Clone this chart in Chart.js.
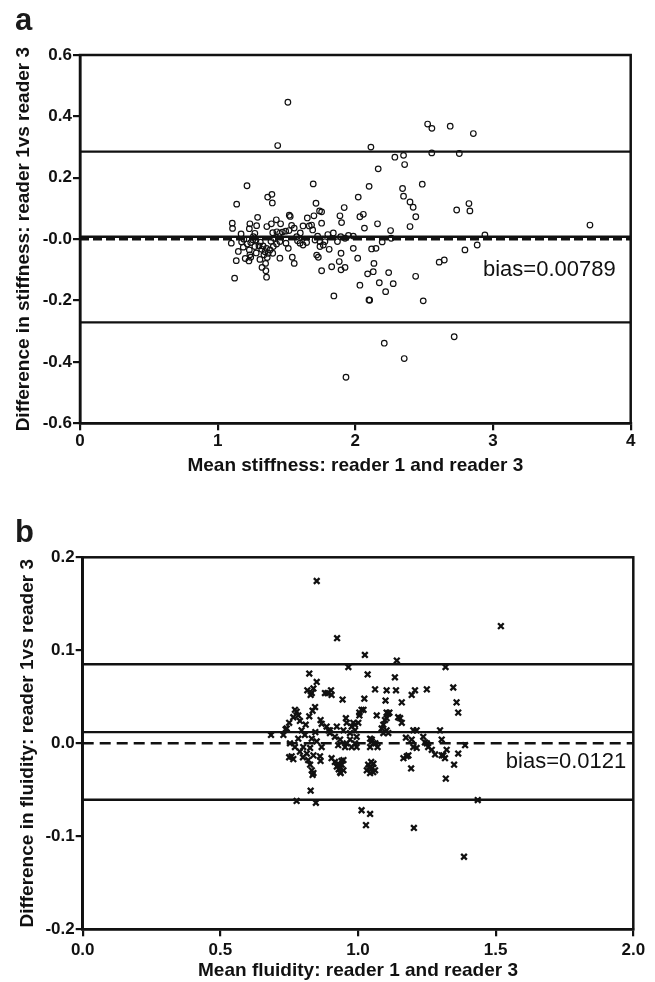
<!DOCTYPE html>
<html lang="en">
<head>
<meta charset="UTF-8">
<title>Bland-Altman: reader 1 vs reader 3</title>
<script src="https://cdn.jsdelivr.net/npm/chart.js"></script>
<style>
    body {
        margin: 0;
        background: #fff;
        font-family: "Liberation Sans", Arial, sans-serif;
    }
    .page {
        position: relative;
        width: 655px;
        height: 982px;
    }
    canvas {
        display: block;
    }
    .tag {
        position: absolute;
        left: 15px;
        font-size: 31px;
        line-height: 30px;
        font-weight: bold;
        color: #1a1a1a;
    }
</style>
</head>
<body>
<div class="page">
    <div class="tag" style="top:5px">a</div>
    <div class="tag" style="top:517px">b</div>
    <canvas id="chartA" width="655" height="490"></canvas>
    <canvas id="chartB" width="655" height="492"></canvas>
</div>

<script>
// ---- panel a: stiffness ----
const stiffMean = [
    1.51, 1.436, 1.213, 1.138, 1.363, 1.394, 1.397, 1.694, 1.714, 1.52,
    1.527, 1.74, 1.755, 1.426, 1.29, 1.106, 1.108, 1.17, 1.234, 1.23,
    1.283, 1.357, 1.39, 1.457, 1.537, 1.556, 1.494, 1.518, 1.27, 1.40,
    1.43, 1.45, 1.47, 1.574, 1.099, 1.174, 1.186, 1.215, 1.24, 1.23,
    1.234, 1.24, 1.227, 1.27, 1.30, 1.32, 1.33, 1.344, 1.355, 1.367,
    1.336, 1.307, 1.322, 1.348, 1.35, 1.355, 1.135, 1.123, 1.40, 1.404,
    1.428, 1.452, 1.496, 1.513, 1.452, 1.542, 1.556, 1.387, 1.409, 1.259,
    1.278, 1.19, 1.651, 1.699, 1.755, 1.62, 1.665, 1.682, 1.69, 1.598,
    1.62, 1.646, 1.707, 1.743, 1.767, 1.779, 1.726, 1.743, 1.719, 1.731,
    1.755, 1.81, 1.828, 1.844, 1.87, 1.894, 1.925, 1.985, 1.888, 1.9,
    1.919, 2.033, 2.058, 2.066, 2.161, 2.256, 2.26, 2.195, 2.397, 2.439,
    2.42, 2.397, 2.736, 2.825, 2.832, 2.941, 3.704, 2.885, 2.796, 1.985,
    1.896, 1.883, 1.896, 1.925, 2.017, 2.118, 2.15, 2.135, 2.13, 2.089,
    2.242, 2.174, 2.275, 2.22, 2.033, 2.099, 2.104, 2.438, 2.493, 2.609,
    2.646, 2.718, 2.21, 2.355, 1.932, 2.525, 2.556, 2.689, 2.857, 2.113,
    2.555, 2.755, 2.287, 2.35, 2.358, 2.166, 2.1, 2.486, 2.021, 2.343,
    2.35, 1.80, 1.84, 1.95, 1.15, 1.28, 1.31, 1.36, 1.38, 1.58,
    1.20, 1.255, 1.60
];
const stiffDiff = [
    0.446, 0.305, 0.174, 0.114, 0.137, 0.146, 0.118, 0.18, 0.117, 0.078,
    0.074, 0.092, 0.089, 0.063, 0.071, 0.052, 0.035, 0.017, 0.05, 0.034,
    0.044, 0.041, 0.05, 0.05, 0.045, 0.036, 0.026, 0.028, 0.019, 0.021,
    0.024, 0.019, 0.023, 0.008, -0.013, -0.009, -0.026, -0.016, -0.011, -0.035,
    -0.051, -0.059, -0.071, -0.024, -0.022, -0.033, -0.022, -0.041, -0.03, -0.046,
    -0.051, -0.066, -0.092, -0.079, -0.103, -0.124, -0.07, -0.127, -0.046, -0.024,
    -0.016, -0.008, -0.013, -0.03, -0.062, -0.059, -0.079, -0.007, 0.003, 0.008,
    -0.003, 0.0, 0.069, 0.076, 0.052, 0.043, 0.043, 0.046, 0.03, -0.013,
    -0.019, -0.011, -0.003, -0.008, -0.019, -0.008, 0.01, -0.024, -0.052, -0.059,
    -0.103, -0.033, -0.09, -0.185, -0.008, 0.008, 0.003, 0.01, 0.076, 0.054,
    0.103, 0.073, 0.081, 0.036, 0.05, 0.028, 0.003, -0.009, 0.041, 0.073,
    0.104, 0.121, 0.095, 0.116, 0.092, 0.014, 0.046, -0.019, -0.035, -0.03,
    -0.046, -0.073, -0.1, -0.092, -0.062, -0.032, -0.03, -0.079, -0.106, -0.113,
    -0.109, -0.142, -0.145, -0.171, -0.15, -0.198, -0.199, -0.121, -0.201, -0.075,
    -0.068, -0.318, -0.339, -0.389, -0.45, 0.375, 0.361, 0.368, 0.344, 0.3,
    0.281, 0.279, 0.267, 0.273, 0.243, 0.229, 0.172, 0.179, 0.137, 0.165,
    0.14, 0.015, 0.02, 0.012, -0.04, -0.045, -0.01, -0.06, -0.035, -0.005,
    -0.063, -0.002, 0.02
];
const stiffBias = 0.00789;
const stiffLimits = [0.285, -0.271];
const stiffXTicks = [0, 1, 2, 3, 4];
const stiffXLabels = ['0', '1', '2', '3', '4'];
const stiffYTicks = [-0.6, -0.4, -0.2, 0, 0.2, 0.4, 0.6];
const stiffYLabels = ['-0.6', '-0.4', '-0.2', '-0.0', '0.2', '0.4', '0.6'];

// ---- panel b: fluidity ----
const fluidMean = [
    0.85, 1.519, 0.924, 1.025, 1.141, 0.965, 1.318, 0.823, 1.035, 1.134,
    0.85, 1.346, 1.358, 1.364, 1.013, 1.044, 1.029, 1.203, 1.385, 1.435,
    0.777, 0.847, 0.828, 0.684, 1.319, 1.193, 1.349, 0.816, 0.832, 0.838,
    0.828, 0.88, 0.902, 0.904, 0.889, 0.944, 1.023, 1.062, 1.104, 1.138,
    1.207, 1.195, 1.25, 1.1, 1.159, 1.02, 1.005, 1.013, 1.068, 1.11,
    1.104, 1.153, 1.159, 1.146, 1.104, 1.114, 1.098, 1.092, 1.086, 1.104,
    1.11, 1.092, 1.201, 1.213, 1.298, 1.044, 1.056, 1.044, 1.05, 1.174,
    1.195, 1.237, 1.243, 1.304, 1.25, 1.322, 1.364, 1.389, 1.201, 1.213,
    1.255, 1.268, 1.28, 1.304, 1.316, 1.31, 1.165, 1.177, 1.183, 0.844,
    0.835, 0.823, 0.777, 0.765, 0.789, 0.75, 0.737, 0.729, 0.864, 0.886,
    0.898, 0.795, 0.807, 0.783, 0.832, 0.85, 0.753, 0.771, 0.801, 0.826,
    0.868, 0.789, 0.814, 0.838, 0.759, 0.75, 0.765, 0.862, 0.864, 0.819,
    0.826, 0.832, 0.835, 0.838, 0.868, 0.892, 0.741, 0.771, 0.783, 0.904,
    0.916, 0.928, 0.935, 0.937, 0.923, 0.947, 0.941, 0.935, 0.947, 0.898,
    0.916, 0.935, 0.959, 0.928, 0.953, 0.971, 0.947, 0.923, 0.959, 0.977,
    0.989, 0.995, 0.989, 0.995, 0.977, 0.971, 0.983, 1.001, 0.956, 0.989,
    1.005, 1.037, 1.05, 1.056, 1.032, 1.044, 1.062, 1.05, 1.063, 1.071,
    1.04, 1.048, 1.055, 0.93, 0.94, 0.81, 0.8, 0.845
];
const fluidDiff = [
    0.1745, 0.126, 0.113, 0.095, 0.089, 0.082, 0.082, 0.075, 0.074, 0.071,
    0.066, 0.06, 0.044, 0.033, -0.072, -0.076, -0.088, -0.091, -0.122, -0.061,
    -0.062, -0.064, -0.051, 0.009, -0.038, -0.027, -0.023, 0.057, 0.054, 0.059,
    0.052, 0.054, 0.057, 0.052, 0.054, 0.047, 0.048, 0.058, 0.057, 0.057,
    0.057, 0.052, 0.058, 0.046, 0.044, 0.036, 0.03, 0.036, 0.03, 0.032,
    0.027, 0.027, 0.022, 0.028, 0.033, 0.033, 0.025, 0.02, 0.016, 0.014,
    0.011, 0.011, 0.014, 0.014, 0.014, 0.005, 0.0, -0.004, 0.002, 0.006,
    0.004, 0.007, 0.001, 0.004, 0.0, -0.007, -0.011, -0.002, -0.004, -0.005,
    -0.004, -0.007, -0.012, -0.013, -0.016, -0.013, -0.016, -0.014, -0.013, 0.039,
    0.035, 0.029, 0.034, 0.028, 0.024, 0.022, 0.015, 0.009, 0.025, 0.018,
    0.014, 0.014, 0.009, 0.005, 0.005, 0.002, 0.0, -0.004, -0.004, -0.005,
    -0.004, -0.009, -0.011, -0.013, -0.014, -0.015, -0.017, -0.014, -0.019, -0.018,
    -0.023, -0.029, -0.034, -0.032, 0.021, 0.014, 0.016, 0.036, 0.03, -0.016,
    -0.02, -0.022, -0.027, -0.032, -0.025, -0.018, -0.023, -0.031, -0.029, 0.011,
    0.007, 0.004, 0.0, -0.002, -0.004, 0.004, 0.014, 0.018, 0.022, 0.018,
    0.014, 0.007, 0.0, -0.004, -0.004, 0.011, 0.022, 0.022, 0.027, 0.02,
    0.033, -0.023, -0.027, -0.022, -0.029, -0.032, -0.029, 0.004, 0.0, -0.004,
    -0.026, -0.02, -0.031, -0.028, -0.019, 0.02, -0.015, 0.012
];
const fluidBias = 0.0121;
const fluidLimits = [0.085, -0.0607];
const fluidXTicks = [0, 0.5, 1, 1.5, 2];
const fluidXLabels = ['0.0', '0.5', '1.0', '1.5', '2.0'];
const fluidYTicks = [-0.2, -0.1, 0, 0.1, 0.2];
const fluidYLabels = ['-0.2', '-0.1', '0.0', '0.1', '0.2'];

const FONT = '"Liberation Sans", Arial, sans-serif';
const INK = '#111';

// box round the plot area + the bias text
const framePlugin = {
    id: 'frame',
    afterDatasetsDraw(chart, args, opts) {
        const { ctx, chartArea: a } = chart;
        ctx.save();
        ctx.strokeStyle = INK;
        ctx.lineWidth = 2.5;
        ctx.strokeRect(a.left, a.top, a.right - a.left, a.bottom - a.top);
        const y0 = chart.scales.y.getPixelForValue(0);
        ctx.fillStyle = INK;
        ctx.font = '22px ' + FONT;
        ctx.textAlign = 'right';
        ctx.textBaseline = 'alphabetic';
        ctx.fillText(opts.text, a.right - opts.inset, y0 + opts.drop);
        ctx.restore();
    }
};

function hline(x0, x1, y, dash) {
    return {
        type: 'line',
        data: [{ x: x0, y: y }, { x: x1, y: y }],
        borderColor: INK,
        borderWidth: dash ? 2.5 : 2.3,
        borderDash: dash || [],
        pointRadius: 0,
        fill: false
    };
}

function makeChart(id, p) {
    const pts = p.mean.map((m, i) => ({ x: m, y: p.diff[i] }));
    const xMin = p.xTicks[0], xMax = p.xTicks[p.xTicks.length - 1];
    const yMin = p.yTicks[0], yMax = p.yTicks[p.yTicks.length - 1];
    return new Chart(document.getElementById(id), {
        type: 'scatter',
        data: {
            datasets: [
                hline(xMin, xMax, 0, p.dash),
                hline(xMin, xMax, p.bias),
                hline(xMin, xMax, p.limits[0]),
                hline(xMin, xMax, p.limits[1]),
                {
                    data: pts,
                    pointStyle: p.marker,
                    pointRadius: p.size,
                    pointBorderWidth: p.markerWidth,
                    pointBorderColor: INK,
                    pointBackgroundColor: 'rgba(0,0,0,0)'
                }
            ]
        },
        options: {
            responsive: false,
            animation: false,
            devicePixelRatio: 1,
            layout: { padding: p.pad },
            plugins: {
                legend: { display: false },
                tooltip: { enabled: false },
                frame: { text: p.biasText, inset: p.textInset, drop: p.textDrop }
            },
            scales: {
                x: {
                    type: 'linear',
                    min: xMin, max: xMax,
                    afterBuildTicks: s => { s.ticks = p.xTicks.map(v => ({ value: v })); },
                    afterFit: s => { s.height = p.xHeight; },
                    grid: { drawOnChartArea: false, color: INK, lineWidth: 2.2, tickLength: 7 },
                    border: { color: INK, width: 2.5 },
                    ticks: {
                        autoSkip: false, maxRotation: 0, padding: p.xTickPad, color: INK,
                        font: { family: FONT, size: 17, weight: 'bold' },
                        callback: (v, i) => p.xLabels[i]
                    },
                    title: {
                        display: true, text: p.xTitle, color: INK,
                        font: { family: FONT, size: 19, weight: 'bold' },
                        padding: { top: 0, bottom: p.xTitlePad }
                    }
                },
                y: {
                    type: 'linear',
                    min: yMin, max: yMax,
                    afterBuildTicks: s => { s.ticks = p.yTicks.map(v => ({ value: v })); },
                    afterFit: s => { s.width = p.yWidth; },
                    grid: { drawOnChartArea: false, color: INK, lineWidth: 2.2, tickLength: 7 },
                    border: { color: INK, width: 2.5 },
                    ticks: {
                        autoSkip: false, padding: 1, color: INK,
                        font: { family: FONT, size: 17, weight: 'bold' },
                        callback: (v, i) => p.yLabels[i]
                    },
                    title: {
                        display: true, text: p.yTitle, color: INK,
                        font: { family: FONT, size: 19, weight: 'bold' },
                        padding: { top: p.yTitlePad, bottom: 0 }
                    }
                }
            }
        },
        plugins: [framePlugin]
    });
}

makeChart('chartA', {
    mean: stiffMean, diff: stiffDiff, bias: stiffBias, limits: stiffLimits,
    xTicks: stiffXTicks, xLabels: stiffXLabels, yTicks: stiffYTicks, yLabels: stiffYLabels,
    xTitle: 'Mean stiffness: reader 1 and reader 3',
    yTitle: 'Difference in stiffness: reader 1vs reader 3',
    biasText: 'bias=0.00789', textInset: 15, textDrop: 37,
    marker: 'circle', size: 2.8, markerWidth: 1.2, dash: [9, 4],
    pad: { left: 0, top: 55, right: 24.3, bottom: 0 },
    yWidth: 80, xHeight: 66.7, xTickPad: 1, xTitlePad: 12.6, yTitlePad: 12.6
});

makeChart('chartB', {
    mean: fluidMean, diff: fluidDiff, bias: fluidBias, limits: fluidLimits,
    xTicks: fluidXTicks, xLabels: fluidXLabels, yTicks: fluidYTicks, yLabels: fluidYLabels,
    xTitle: 'Mean fluidity: reader 1 and reader 3',
    yTitle: 'Difference in fluidity: reader 1vs reader 3',
    biasText: 'bias=0.0121', textInset: 7, textDrop: 25,
    marker: 'crossRot', size: 4, markerWidth: 2.3, dash: [11, 6],
    pad: { left: 0, top: 67.3, right: 21.7, bottom: 0 },
    yWidth: 82.7, xHeight: 52.7, xTickPad: 4, xTitlePad: 0, yTitlePad: 16.6
});
</script>
</body>
</html>
